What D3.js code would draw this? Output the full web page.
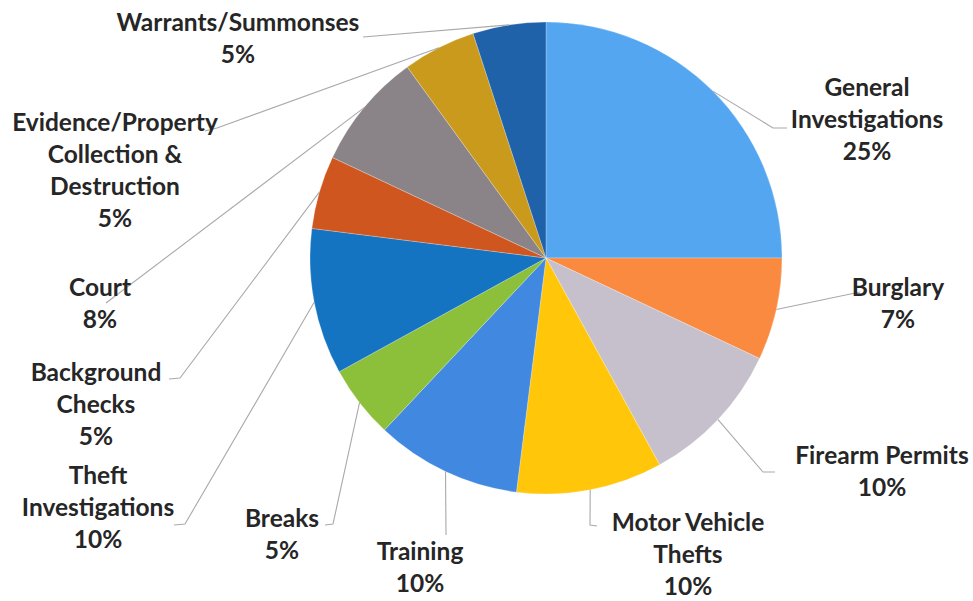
<!DOCTYPE html>
<html>
<head>
<meta charset="utf-8">
<script src="https://cdn.jsdelivr.net/npm/d3@7/dist/d3.min.js"></script>
<style>
  html, body { margin: 0; padding: 0; background: #fff; }
  svg { display: block; }
  .lbl { font-family: Lato, "Open Sans", sans-serif; font-weight: 700; fill: #262626; }
</style>
</head>
<body>
<svg id="chart" width="973" height="601"></svg>
<script>
// Share of time by activity (percent), clockwise from 12 o'clock
const categories = [
  "General Investigations", "Burglary", "Firearm Permits", "Motor Vehicle Thefts",
  "Training", "Breaks", "Theft Investigations", "Background Checks", "Court",
  "Evidence/Property Collection & Destruction", "Warrants/Summonses"
];
const shares = [25, 7, 10, 10, 10, 5, 10, 5, 8, 5, 5];
const sliceColors = [
  "#55A6F0", "#F98A40", "#C6C0CC", "#FFC60A", "#4088E0", "#8CBF3A",
  "#1474C2", "#D0561F", "#8A8489", "#C99A1C", "#1F62AA"
];
// How each category name wraps onto lines
const labelLines = [
  ["General", "Investigations"], ["Burglary"], ["Firearm Permits"],
  ["Motor Vehicle", "Thefts"], ["Training"], ["Breaks"],
  ["Theft", "Investigations"], ["Background", "Checks"], ["Court"],
  ["Evidence/Property", "Collection &", "Destruction"], ["Warrants/Summonses"]
];

// Label placement: centre x, first line y, and the leader-line bend points
const labelLayout = [
  { x: 867, y: 87,  path: [[773, 128], [787, 128]] },
  { x: 898, y: 287, path: [[860, 292]] },
  { x: 882, y: 455, path: [[763, 472], [775, 472]] },
  { x: 688, y: 522, path: [[590, 525], [597, 526]] },
  { x: 420, y: 551, path: [[446, 535]] },
  { x: 282, y: 518, path: [[333, 524], [325, 525]] },
  { x: 98,  y: 475, path: [[185, 524], [174, 525]] },
  { x: 96,  y: 372, path: [[180, 378], [169, 379]] },
  { x: 100, y: 287, path: [[106, 303]] },
  { x: 115, y: 122, path: [[217, 128], [205, 131]] },
  { x: 238, y: 22,  path: [[363, 37]] }
];

const cx = 546, cy = 258, radius = 236;
const lineGap = 32;

const svg = d3.select("#chart");
const g = svg.append("g").attr("transform", `translate(${cx},${cy})`);

const data = categories.map((c, i) => ({ name: c, value: shares[i], i }));
const pie = d3.pie().sort(null).value(d => d.value).startAngle(0).endAngle(2 * Math.PI);
const arcs = pie(data);

const arc = d3.arc().innerRadius(0).outerRadius(radius);
const edge = d3.arc().innerRadius(radius).outerRadius(radius);

g.selectAll("path.slice")
  .data(arcs)
  .join("path")
  .attr("class", "slice")
  .attr("d", arc)
  .attr("fill", d => sliceColors[d.data.i])
  .attr("stroke", "rgba(255,255,255,0.35)")
  .attr("stroke-width", 0.7);

// Leader lines from each slice's outer edge to its label
const line = d3.line();
svg.append("g")
  .selectAll("path")
  .data(arcs)
  .join("path")
  .attr("d", d => {
    const [ex, ey] = edge.centroid(d);
    const pts = [[cx + ex, cy + ey]].concat(labelLayout[d.data.i].path);
    return line(pts);
  })
  .attr("fill", "none")
  .attr("stroke", "#A9A9A9")
  .attr("stroke-width", 1.1);

// Labels: name lines followed by the percentage
const labels = svg.append("g")
  .selectAll("text")
  .data(arcs)
  .join("text")
  .attr("class", "lbl")
  .attr("text-anchor", "middle")
  .attr("font-size", 24.5);

labels.each(function(d) {
  const lay = labelLayout[d.data.i];
  const lines = labelLines[d.data.i].concat([d.data.value + "%"]);
  d3.select(this).selectAll("tspan")
    .data(lines)
    .join("tspan")
    .attr("x", lay.x)
    .attr("y", (t, k) => lay.y + k * lineGap)
    .attr("dy", "0.35em")
    .text(t => t);
});
</script>
</body>
</html>
